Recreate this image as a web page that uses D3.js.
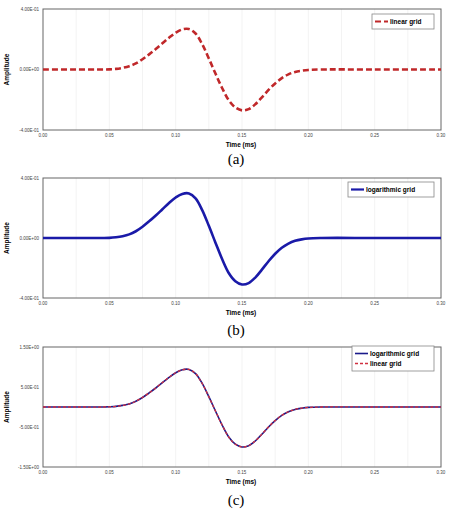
<!DOCTYPE html><html><head><meta charset="utf-8">
<script src="https://cdn.jsdelivr.net/npm/d3@7"></script>
<style>body{margin:0;background:#fff}</style></head><body>
<svg id="c" width="450" height="513"></svg>
<script>
const times=[0,0.025,0.045,0.05,0.055,0.06,0.065,0.07,0.075,0.08,0.085,0.09,0.095,0.1,0.105,0.11,0.115,0.12,0.125,0.13,0.135,0.14,0.145,0.15,0.155,0.16,0.165,0.17,0.175,0.18,0.185,0.19,0.195,0.2,0.21,0.25,0.3];
const linearA=[0,0,0,0.001,0.004,0.011,0.022,0.04,0.068,0.1,0.135,0.173,0.21,0.243,0.265,0.267,0.238,0.167,0.073,-0.027,-0.122,-0.203,-0.251,-0.27,-0.262,-0.23,-0.184,-0.135,-0.092,-0.057,-0.032,-0.016,-0.008,-0.003,0,0,0];
const logB=[0,0,0,0.001,0.005,0.012,0.024,0.045,0.075,0.111,0.15,0.192,0.234,0.27,0.294,0.297,0.264,0.186,0.081,-0.031,-0.14,-0.233,-0.288,-0.31,-0.301,-0.264,-0.211,-0.155,-0.105,-0.065,-0.037,-0.019,-0.009,-0.003,0,0,0];
const logC=[0,0,0,0.005,0.015,0.04,0.076,0.143,0.238,0.352,0.475,0.608,0.741,0.855,0.931,0.94,0.836,0.589,0.257,-0.1,-0.45,-0.75,-0.93,-1.0,-0.97,-0.85,-0.68,-0.5,-0.34,-0.21,-0.12,-0.06,-0.03,-0.01,0,0,0];
const linearC=[0,0,0,0.005,0.015,0.04,0.077,0.144,0.24,0.354,0.477,0.61,0.742,0.855,0.93,0.938,0.834,0.587,0.255,-0.102,-0.452,-0.752,-0.931,-1.0,-0.969,-0.849,-0.679,-0.499,-0.339,-0.209,-0.119,-0.059,-0.029,-0.01,0,0,0];
const xTicks=[0,0.05,0.1,0.15,0.2,0.25,0.3];
const yTicksA=[-0.4,0,0.4], yTicksC=[-1.5,-0.5,0.5,1.5];
const panels=[
 {top:9,bot:130,dom:[-0.4,0.4],yt:yTicksA,cap:"(a)",capY:164,series:[{v:linearA,c:"#c0282a",w:2.6,d:"6,3",name:"linear grid"}],leg:[372,14,62]},
 {top:178,bot:298,dom:[-0.4,0.4],yt:yTicksA,cap:"(b)",capY:335,series:[{v:logB,c:"#1a1aa8",w:2.6,d:null,name:"logarithmic grid"}],leg:[348,182,86]},
 {top:347,bot:467,dom:[-1.5,1.5],yt:yTicksC,cap:"(c)",capY:505,series:[{v:logC,c:"#1a1a8a",w:1.6,d:null,name:"logarithmic grid"},{v:linearC,c:"#d03040",w:1.3,d:"3,2",name:"linear grid"}],leg:[352,346,82]}
];
const svg=d3.select("#c");
const fmt=v=>{if(v===0)return "0.00E+00";const e=Math.floor(Math.log10(Math.abs(v)));const m=v/Math.pow(10,e);return m.toFixed(2)+"E"+(e<0?"-":"+")+String(Math.abs(e)).padStart(2,"0");};
panels.forEach(p=>{
 const x=d3.scaleLinear().domain([0,0.3]).range([43,441]);
 const y=d3.scaleLinear().domain(p.dom).range([p.bot,p.top]);
 const g=svg.append("g");
 d3.range(0.025,0.3,0.025).forEach(t=>g.append("line").attr("x1",x(t)).attr("x2",x(t)).attr("y1",p.top).attr("y2",p.bot).attr("stroke","#eee").attr("stroke-width",0.7));
 g.append("rect").attr("x",43).attr("y",p.top).attr("width",398).attr("height",p.bot-p.top).attr("fill","none").attr("stroke","#666").attr("stroke-width",1);
 xTicks.forEach(t=>g.append("text").attr("x",x(t)).attr("y",p.bot+7).attr("text-anchor","middle").attr("font-size",4.5).attr("font-family","Liberation Sans").attr("fill","#444").text(t.toFixed(2)));
 p.yt.forEach(t=>g.append("text").attr("x",39).attr("y",y(t)+1.5).attr("text-anchor","end").attr("font-size",4.5).attr("font-family","Liberation Sans").attr("fill","#444").text(fmt(t)));
 g.append("text").attr("x",241).attr("y",p.bot+17).attr("text-anchor","middle").attr("font-size",6.5).attr("font-weight","bold").attr("font-family","Liberation Sans").text("Time (ms)");
 g.append("text").attr("transform",`translate(9,${(p.top+p.bot)/2}) rotate(-90)`).attr("text-anchor","middle").attr("font-size",6.5).attr("font-weight","bold").attr("font-family","Liberation Sans").text("Amplitude");
 g.append("text").attr("x",236).attr("y",p.capY).attr("text-anchor","middle").attr("font-size",15).attr("font-family","Liberation Serif").text(p.cap);
 const line=d3.line().x((d,i)=>x(times[i])).y(d=>y(d)).curve(d3.curveCatmullRom.alpha(0.5));
 p.series.forEach(s=>g.append("path").attr("d",line(s.v)).attr("fill","none").attr("stroke",s.c).attr("stroke-width",s.w).attr("stroke-dasharray",s.d));
 const [lx,ly,lw]=p.leg, lh=5+p.series.length*10;
 g.append("rect").attr("x",lx).attr("y",ly).attr("width",lw).attr("height",lh).attr("fill","#fff").attr("stroke","#888").attr("stroke-width",0.8);
 p.series.forEach((s,i)=>{const yy=ly+7.5+i*10;
  g.append("line").attr("x1",lx+3).attr("x2",lx+16).attr("y1",yy).attr("y2",yy).attr("stroke",s.c).attr("stroke-width",Math.min(s.w,2.2)).attr("stroke-dasharray",s.d);
  g.append("text").attr("x",lx+18).attr("y",yy+2.3).attr("font-size",6.5).attr("font-weight","bold").attr("font-family","Liberation Sans").text(s.name);});
});
</script></body></html>
